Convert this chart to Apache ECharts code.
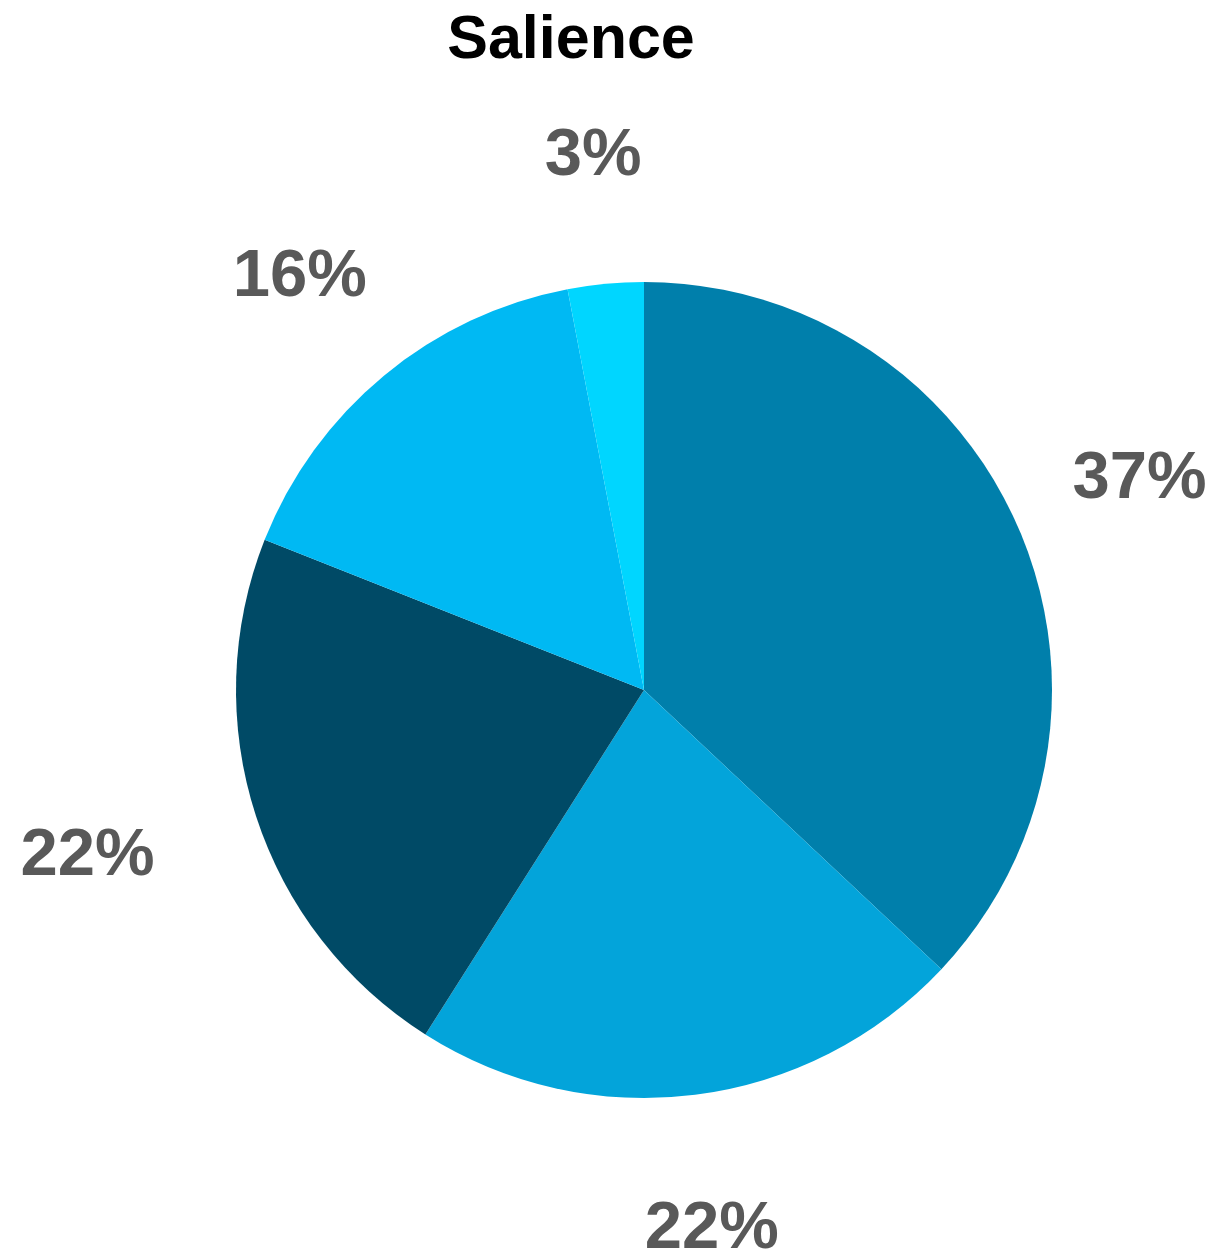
<!DOCTYPE html>
<html>
<head>
<meta charset="utf-8">
<script src="https://cdn.jsdelivr.net/npm/echarts@6/dist/echarts.min.js"></script>
<style>
  html, body { margin: 0; padding: 0; background: #fff; }
  #chart { width: 1226px; height: 1259px; }
</style>
</head>
<body>
<div id="chart"></div>
<script>
const categories = ['Segment 1', 'Segment 2', 'Segment 3', 'Segment 4', 'Segment 5'];
const values = [37, 22, 22, 16, 3];
const colors = ['#007FAB', '#03A4DA', '#004A66', '#00B9F3', '#00D6FF'];
const titleText = 'Salience';

const chart = echarts.init(document.getElementById('chart'), null, { renderer: 'canvas' });
const pieData = categories.map((name, i) => ({ name, value: values[i], itemStyle: { color: colors[i] } }));
const labelData = categories.map((name, i) => ({ name, value: values[i] }));

chart.setOption({
  backgroundColor: '#ffffff',
  animation: false,
  title: {
    text: titleText,
    left: 566,
    textAlign: 'center',
    top: 6,
    textStyle: { fontFamily: 'Liberation Sans, Arial, sans-serif', fontWeight: 'bold', fontSize: 61, color: '#000000' }
  },
  series: [
    {
      type: 'pie',
      center: [644, 690],
      radius: [0, 408],
      startAngle: 90,
      clockwise: true,
      silent: true,
      label: { show: false },
      labelLine: { show: false },
      data: pieData
    },
    {
      type: 'pie',
      center: [644, 690],
      radius: [531, 543],
      startAngle: 90,
      clockwise: true,
      silent: true,
      itemStyle: { color: 'rgba(0,0,0,0)' },
      label: {
        show: true,
        position: 'inside',
        formatter: '{c}%',
        fontFamily: 'Liberation Sans, Arial, sans-serif',
        fontWeight: 'bold',
        fontSize: 67,
        color: '#595959'
      },
      labelLine: { show: false },
      labelLayout: function (params) {
        if (params.dataIndex === 2) return { dx: -43, dy: 0 };
        return { dy: 4 };
      },
      data: labelData
    }
  ]
});
</script>
</body>
</html>
